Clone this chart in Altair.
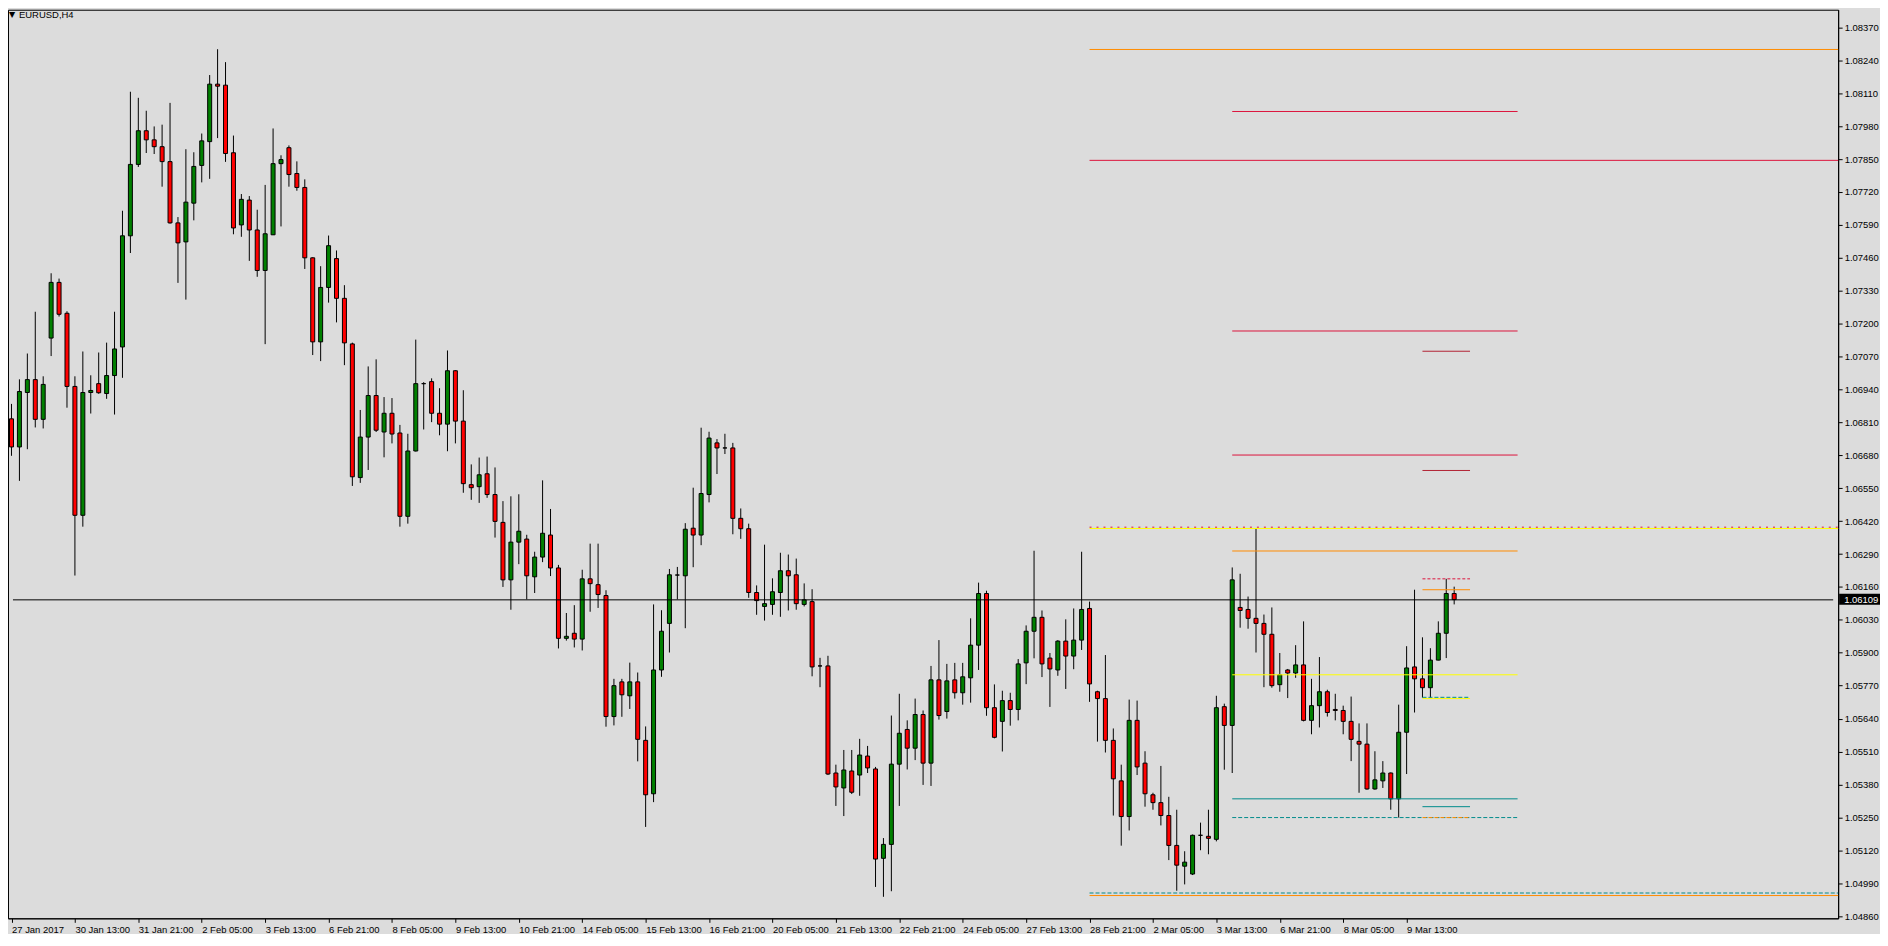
import altair as alt
import pandas as pd

# ---------------- data (EURUSD, H4) ----------------
opens = [1.06824, 1.06713, 1.06928, 1.06979, 1.06822, 1.07143, 1.07363, 1.07241, 1.06952, 1.06443,
         1.06928, 1.06963, 1.06924, 1.06995, 1.07108, 1.07547, 1.07829, 1.07962, 1.07926, 1.07899,
         1.07840, 1.07598, 1.07523, 1.07676, 1.07825, 1.07919, 1.08146, 1.08142, 1.07875, 1.07590,
         1.07688, 1.07570, 1.07410, 1.07551, 1.07832, 1.07895, 1.07793, 1.07738, 1.07460, 1.07128,
         1.07343, 1.07457, 1.07300, 1.07120, 1.06592, 1.06752, 1.06916, 1.06772, 1.06846, 1.06768,
         1.06439, 1.06697, 1.06963, 1.06971, 1.06846, 1.06803, 1.07014, 1.06815, 1.06564, 1.06556,
         1.06607, 1.06525, 1.06415, 1.06188, 1.06337, 1.06349, 1.06200, 1.06278, 1.06365, 1.06235,
         1.05957, 1.05977, 1.05954, 1.06192, 1.06169, 1.06126, 1.05648, 1.05785, 1.05730, 1.05785,
         1.05554, 1.05343, 1.05832, 1.06016, 1.06207, 1.06204, 1.06392, 1.06365, 1.06525, 1.06729,
         1.06709, 1.06709, 1.06431, 1.06390, 1.06138, 1.06083, 1.06091, 1.06138, 1.06224, 1.06208,
         1.06091, 1.06102, 1.05848, 1.05848, 1.05425, 1.05366, 1.05433, 1.05417, 1.05492, 1.05441,
         1.05088, 1.05143, 1.05460, 1.05597, 1.05523, 1.05656, 1.05464, 1.05793, 1.05668, 1.05793,
         1.05742, 1.05801, 1.05930, 1.06134, 1.05683, 1.05629, 1.05711, 1.05676, 1.05860, 1.05985,
         1.06040, 1.05879, 1.05832, 1.05946, 1.05887, 1.05950, 1.06075, 1.05746, 1.05719, 1.05554,
         1.05394, 1.05253, 1.05633, 1.05464, 1.05339, 1.05308, 1.05257, 1.05139, 1.05057, 1.05026,
         1.05179, 1.05175, 1.05163, 1.05687, 1.05613, 1.06079, 1.06071, 1.06036, 1.06016, 1.05973,
         1.05774, 1.05832, 1.05820, 1.05852, 1.05633, 1.05691, 1.05746, 1.05676, 1.05672, 1.05629,
         1.05550, 1.05539, 1.05362, 1.05394, 1.05425, 1.05323, 1.05586, 1.05844, 1.05797, 1.05762,
         1.05871, 1.05977, 1.06134]
highs = [1.06883, 1.06980, 1.07082, 1.07247, 1.06992, 1.07399, 1.07378, 1.07249, 1.06992, 1.07090,
         1.06996, 1.07086, 1.07125, 1.07247, 1.07646, 1.08116, 1.08092, 1.08041, 1.07979, 1.07986,
         1.08072, 1.07621, 1.07889, 1.07877, 1.07951, 1.08182, 1.08284, 1.08233, 1.07943, 1.07712,
         1.07704, 1.07650, 1.07748, 1.07971, 1.07865, 1.07904, 1.07841, 1.07770, 1.07462, 1.07427,
         1.07548, 1.07489, 1.07352, 1.07125, 1.06859, 1.07031, 1.07059, 1.06910, 1.06906, 1.06800,
         1.06765, 1.07137, 1.06969, 1.06984, 1.06945, 1.07094, 1.07016, 1.06937, 1.06644, 1.06671,
         1.06675, 1.06632, 1.06499, 1.06518, 1.06526, 1.06366, 1.06299, 1.06581, 1.06468, 1.06247,
         1.06057, 1.06088, 1.06228, 1.06331, 1.06331, 1.06147, 1.05797, 1.05797, 1.05861, 1.05822,
         1.05609, 1.06091, 1.06068, 1.06231, 1.06239, 1.06412, 1.06552, 1.06789, 1.06773, 1.06744,
         1.06765, 1.06729, 1.06470, 1.06410, 1.06166, 1.06327, 1.06194, 1.06295, 1.06288, 1.06272,
         1.06174, 1.06151, 1.05880, 1.05888, 1.05458, 1.05516, 1.05516, 1.05560, 1.05532, 1.05449,
         1.05168, 1.05652, 1.05738, 1.05633, 1.05719, 1.05672, 1.05848, 1.05950, 1.05856, 1.05860,
         1.05860, 1.06036, 1.06177, 1.06145, 1.05775, 1.05750, 1.05742, 1.05875, 1.06008, 1.06303,
         1.06067, 1.05899, 1.05950, 1.06032, 1.06075, 1.06299, 1.06102, 1.05750, 1.05891, 1.05601,
         1.05458, 1.05715, 1.05711, 1.05511, 1.05347, 1.05453, 1.05331, 1.05280, 1.05116, 1.05182,
         1.05229, 1.05280, 1.05730, 1.05699, 1.06237, 1.06212, 1.06122, 1.06392, 1.06051, 1.06079,
         1.05899, 1.05836, 1.05930, 1.06024, 1.05797, 1.05883, 1.05754, 1.05738, 1.05691, 1.05727,
         1.05621, 1.05621, 1.05511, 1.05472, 1.05427, 1.05695, 1.05926, 1.06149, 1.05961, 1.05918,
         1.06024, 1.06192, 1.06161]
lows = [1.06678, 1.06579, 1.06704, 1.06790, 1.06786, 1.07072, 1.07228, 1.06868, 1.06205, 1.06398,
        1.06845, 1.06923, 1.06903, 1.06841, 1.06986, 1.07479, 1.07819, 1.07874, 1.07870, 1.07741,
        1.07595, 1.07361, 1.07295, 1.07608, 1.07758, 1.07772, 1.07933, 1.07839, 1.07553, 1.07543,
        1.07448, 1.07385, 1.07119, 1.07550, 1.07584, 1.07741, 1.07725, 1.07416, 1.07076, 1.07052,
        1.07283, 1.07205, 1.07036, 1.06559, 1.06571, 1.06622, 1.06772, 1.06672, 1.06727, 1.06398,
        1.06410, 1.06695, 1.06782, 1.06811, 1.06759, 1.06696, 1.06727, 1.06532, 1.06504, 1.06492,
        1.06512, 1.06355, 1.06160, 1.06070, 1.06250, 1.06111, 1.06136, 1.06258, 1.06203, 1.05917,
        1.05948, 1.05921, 1.05909, 1.06062, 1.06077, 1.05608, 1.05613, 1.05647, 1.05678, 1.05471,
        1.05212, 1.05310, 1.05805, 1.05901, 1.06111, 1.05997, 1.06238, 1.06325, 1.06494, 1.06606,
        1.06685, 1.06368, 1.06350, 1.06117, 1.06050, 1.06027, 1.06050, 1.06042, 1.06067, 1.06070,
        1.06083, 1.05807, 1.05764, 1.05417, 1.05295, 1.05255, 1.05342, 1.05335, 1.05425, 1.04975,
        1.04936, 1.04958, 1.05295, 1.05439, 1.05476, 1.05378, 1.05374, 1.05636, 1.05640, 1.05719,
        1.05695, 1.05703, 1.05832, 1.05651, 1.05562, 1.05510, 1.05612, 1.05633, 1.05776, 1.05878,
        1.05804, 1.05686, 1.05809, 1.05757, 1.05835, 1.05911, 1.05706, 1.05549, 1.05506, 1.05257,
        1.05138, 1.05198, 1.05417, 1.05292, 1.05280, 1.05218, 1.05081, 1.04960, 1.04985, 1.05022,
        1.05120, 1.05104, 1.05155, 1.05438, 1.05425, 1.05999, 1.05995, 1.05901, 1.05764, 1.05762,
        1.05746, 1.05721, 1.05801, 1.05629, 1.05578, 1.05605, 1.05648, 1.05633, 1.05578, 1.05472,
        1.05347, 1.05359, 1.05359, 1.05366, 1.05280, 1.05249, 1.05421, 1.05664, 1.05723, 1.05723,
        1.05870, 1.05879, 1.06091]
closes = [1.06713, 1.06932, 1.06979, 1.06822, 1.06960, 1.07363, 1.07237, 1.06952, 1.06443, 1.06928,
          1.06936, 1.06927, 1.06995, 1.07100, 1.07547, 1.07829, 1.07962, 1.07926, 1.07899, 1.07840,
          1.07598, 1.07519, 1.07680, 1.07821, 1.07922, 1.08146, 1.08138, 1.07872, 1.07578, 1.07691,
          1.07570, 1.07410, 1.07555, 1.07832, 1.07848, 1.07789, 1.07738, 1.07460, 1.07128, 1.07343,
          1.07508, 1.07300, 1.07124, 1.06595, 1.06752, 1.06916, 1.06779, 1.06846, 1.06764, 1.06439,
          1.06697, 1.06963, 1.06963, 1.06846, 1.06803, 1.07014, 1.06815, 1.06568, 1.06552, 1.06603,
          1.06525, 1.06419, 1.06188, 1.06337, 1.06380, 1.06204, 1.06278, 1.06372, 1.06235, 1.05957,
          1.05965, 1.05954, 1.06192, 1.06173, 1.06130, 1.05648, 1.05770, 1.05734, 1.05785, 1.05558,
          1.05339, 1.05832, 1.05985, 1.06208, 1.06207, 1.06388, 1.06365, 1.06529, 1.06748, 1.06709,
          1.06709, 1.06431, 1.06390, 1.06138, 1.06106, 1.06094, 1.06141, 1.06224, 1.06204, 1.06094,
          1.06109, 1.05844, 1.05848, 1.05421, 1.05370, 1.05437, 1.05349, 1.05496, 1.05445, 1.05085,
          1.05143, 1.05460, 1.05582, 1.05523, 1.05656, 1.05464, 1.05793, 1.05652, 1.05789, 1.05742,
          1.05805, 1.05930, 1.06134, 1.05683, 1.05566, 1.05711, 1.05676, 1.05856, 1.05985, 1.06040,
          1.05856, 1.05836, 1.05946, 1.05887, 1.05950, 1.06071, 1.05777, 1.05719, 1.05554, 1.05402,
          1.05253, 1.05633, 1.05449, 1.05343, 1.05308, 1.05257, 1.05139, 1.05061, 1.05073, 1.05179,
          1.05179, 1.05167, 1.05683, 1.05613, 1.06188, 1.06067, 1.06036, 1.06016, 1.05973, 1.05770,
          1.05813, 1.05820, 1.05852, 1.05633, 1.05691, 1.05746, 1.05664, 1.05672, 1.05629, 1.05558,
          1.05539, 1.05362, 1.05398, 1.05425, 1.05323, 1.05586, 1.05840, 1.05797, 1.05762, 1.05871,
          1.05977, 1.06134, 1.06110]

# time-axis labels, one every 8 bars
time_labels = ["27 Jan 2017", "30 Jan 13:00", "31 Jan 21:00", "2 Feb 05:00", "3 Feb 13:00",
               "6 Feb 21:00", "8 Feb 05:00", "9 Feb 13:00", "10 Feb 21:00", "14 Feb 05:00",
               "15 Feb 13:00", "16 Feb 21:00", "20 Feb 05:00", "21 Feb 13:00", "22 Feb 21:00",
               "24 Feb 05:00", "27 Feb 13:00", "28 Feb 21:00", "2 Mar 05:00", "3 Mar 13:00",
               "6 Mar 21:00", "8 Mar 05:00", "9 Mar 13:00"]
time_label_bars = [0, 8, 16, 24, 32, 40, 48, 56, 64, 72, 80, 88, 96, 104, 112, 120, 128, 136,
                   144, 152, 160, 168, 176]

price_ticks = [1.04860, 1.04990, 1.05120, 1.05250, 1.05380, 1.05510, 1.05640, 1.05770, 1.05900,
               1.06030, 1.06160, 1.06290, 1.06420, 1.06550, 1.06680, 1.06810, 1.06940, 1.07070,
               1.07200, 1.07330, 1.07460, 1.07590, 1.07720, 1.07850, 1.07980, 1.08110, 1.08240,
               1.08370]

# horizontal levels: price, first bar, last bar, colour, dash pattern ([] = solid)
level_price = [1.08283, 1.07845, 1.06391, 1.06396, 1.04941, 1.04951,
               1.08038, 1.07171, 1.06681, 1.06302, 1.05813, 1.05323, 1.05249,
               1.07091, 1.06620, 1.06192, 1.06149, 1.05719, 1.05724, 1.05292, 1.05249]
level_start = [136, 136, 136, 136, 136, 136,
               154, 154, 154, 154, 154, 154, 154,
               178, 178, 178, 178, 178, 178, 178, 178]
level_end = [231, 231, 231, 231, 231, 231,
             190, 190, 190, 190, 190, 190, 190,
             184, 184, 184, 184, 184, 184, 184, 184]
level_color = ["#FF8C00", "#DC143C", "#FFFF00", "#DC143C", "#FF8C00", "#008B8B",
               "#DC143C", "#DC143C", "#DC143C", "#FF8C00", "#FFFF00", "#008B8B", "#008B8B",
               "#B22234", "#B22234", "#DC143C", "#FF8C00", "#FFFF00", "#008B8B", "#008B8B", "#FF8C00"]
level_dash = [[], [], [], [2, 5], [], [4, 2],
              [], [], [], [], [], [], [4, 2],
              [], [], [3, 2], [], [], [4, 2], [], [4, 2]]

bid_price = 1.06109
symbol_title = "EURUSD,H4"

# ---------------- layout ----------------
W, H = 1837, 912
X_DOMAIN = [0.1875, 0.1875 + W / 8]
Y_DOMAIN = [1.04851, 1.08440]
BG = "#DCDCDC"
FONT = "Liberation Sans"
FS = 9.5

bars = pd.DataFrame({"bar": list(range(len(opens))), "open": opens, "high": highs,
                     "low": lows, "close": closes})
bars["dir"] = ["up" if c >= o else "down" for o, c in zip(opens, closes)]

levels = pd.DataFrame({"price": level_price, "start": level_start, "end": level_end,
                       "color": level_color, "dash": level_dash})
levels["dashed"] = [len(d) > 0 for d in level_dash]

label_expr = "[" + ",".join("'%s'" % s for s in time_labels) + "][round(datum.value / 8)]"

xscale = alt.Scale(domain=X_DOMAIN, nice=False, zero=False)
yscale = alt.Scale(domain=Y_DOMAIN, nice=False, zero=False)

x_axis = alt.Axis(orient="bottom", values=time_label_bars, tickCount=100, labelExpr=label_expr,
                  labelAlign="left", labelBaseline="top", labelPadding=2, tickSize=4,
                  labelFontSize=FS, labelFont=FONT, labelColor="black", tickColor="black",
                  domainColor="black", grid=False, title=None, labelOverlap=False,
                  labelFlush=False)
y_axis = alt.Axis(orient="right", values=price_ticks, tickCount=100, format=".5f", tickSize=4,
                  labelPadding=2, labelFontSize=FS, labelFont=FONT, labelColor="black",
                  tickColor="black", domainColor="black", grid=False, title=None,
                  labelOverlap=False, labelFlush=False)

base = alt.Chart(bars)

wicks = base.mark_rule(color="black", strokeWidth=1, clip=True).encode(
    x=alt.X("bar:Q", scale=xscale, axis=x_axis),
    y=alt.Y("low:Q", scale=yscale, axis=y_axis),
    y2="high:Q",
)
bodies = base.mark_bar(size=4, stroke="black", strokeWidth=1, clip=True, opacity=1).encode(
    x=alt.X("bar:Q", scale=xscale, axis=x_axis),
    y=alt.Y("open:Q", scale=yscale, axis=y_axis),
    y2="close:Q",
    color=alt.Color("dir:N", scale=alt.Scale(domain=["up", "down"], range=["#008000", "#FF0000"]),
                    legend=None),
)

solid_lv = alt.Chart(levels[~levels["dashed"]].drop(columns=["dash"])).mark_rule(
    strokeWidth=1, clip=True).encode(
    x=alt.X("start:Q", scale=xscale, axis=x_axis), x2="end:Q",
    y=alt.Y("price:Q", scale=yscale, axis=y_axis),
    color=alt.Color("color:N", scale=None),
)
dashed_lv = alt.Chart(levels[levels["dashed"]]).mark_rule(strokeWidth=1, clip=True).encode(
    x=alt.X("start:Q", scale=xscale, axis=x_axis), x2="end:Q",
    y=alt.Y("price:Q", scale=yscale, axis=y_axis),
    color=alt.Color("color:N", scale=None),
    strokeDash=alt.StrokeDash("dash", scale=None),
)

bid_df = pd.DataFrame({"price": [bid_price], "label": ["%.5f" % bid_price],
                       "start": [X_DOMAIN[0]], "end": [X_DOMAIN[1]]})
bid_line = alt.Chart(bid_df).mark_rule(color="black", strokeWidth=1, clip=True).encode(
    x=alt.X("start:Q", scale=xscale, axis=x_axis), x2="end:Q",
    y=alt.Y("price:Q", scale=yscale, axis=y_axis))
bid_box = alt.Chart(bid_df).mark_rect(color="black", yOffset=-6, y2Offset=5).encode(
    x=alt.value(W + 1), x2=alt.value(W + 42),
    y=alt.Y("price:Q", scale=yscale, axis=y_axis), y2="price:Q")
bid_text = alt.Chart(bid_df).mark_text(align="left", baseline="middle", color="white",
                                       fontSize=FS, font=FONT).encode(
    x=alt.value(W + 6), y=alt.Y("price:Q", scale=yscale, axis=y_axis), text="label:N")

title_df = pd.DataFrame({"tri": ["\u25BC"], "t": [symbol_title]})
title_tri = alt.Chart(title_df).mark_text(align="left", baseline="middle", fontSize=8,
                                          font="DejaVu Sans", color="black").encode(
    x=alt.value(1), y=alt.value(5), text="tri:N")
title_txt = alt.Chart(title_df).mark_text(align="left", baseline="middle", fontSize=FS,
                                          font=FONT, color="black").encode(
    x=alt.value(11), y=alt.value(5), text="t:N")

chart = alt.layer(wicks, bodies, solid_lv, dashed_lv, bid_line, bid_box, bid_text,
                  title_tri, title_txt).properties(
    width=W, height=H,
    autosize=alt.AutoSizeParams(type="none"),
    padding={"left": 0, "top": 0, "right": 42, "bottom": 14},
    background=BG,
).configure_view(fill=BG, stroke="black", strokeWidth=1)

chart.save("out.html", embed_options={"renderer": "svg", "actions": False})
